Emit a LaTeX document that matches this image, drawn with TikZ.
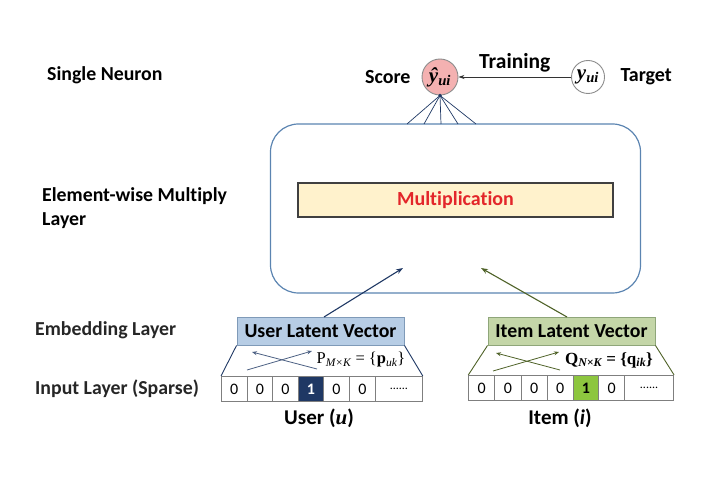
\documentclass[tikz,border=0pt]{standalone}
\usepackage{fontspec}
\setmainfont{Carlito}[Ligatures=NoCommon]
\newfontfamily\tms{Liberation Serif}
\usetikzlibrary{arrows.meta,calc}
\definecolor{navy}{HTML}{1F3864}
\definecolor{dgreen}{HTML}{4F6228}
\definecolor{boxblue}{HTML}{5B84B1}
\definecolor{ublue}{HTML}{B7CDE5}
\definecolor{ublueb}{HTML}{7F9AB8}
\definecolor{igreen}{HTML}{C4D6A8}
\definecolor{igreenb}{HTML}{8FA67A}
\definecolor{hgreen}{HTML}{8DC63F}
\definecolor{myellow}{HTML}{FFF2CC}
\definecolor{mred}{HTML}{E3262A}
\definecolor{spink}{HTML}{F4B1B1}
\definecolor{cellg}{HTML}{7F7F7F}
\newcommand\celldots{\fontsize{12}{12}\selectfont......}
\tikzset{
  lbl/.style={anchor=west, font=\bfseries\fontsize{19.8}{24}\selectfont, text=black, inner sep=0pt},
  cellbox/.style={draw=cellg, line width=0.8pt, minimum height=25pt, inner sep=0pt, font=\fontsize{16}{16}\selectfont},
  latent/.style={minimum width=167pt, minimum height=28pt, inner sep=0pt, line width=0.9pt, font=\bfseries\fontsize{19.8}{19.8}\selectfont},
  neuron/.style={circle, minimum size=36pt, inner sep=0pt, line width=0.9pt},
  xarrow/.style={line width=0.8pt, -{Stealth[length=5pt,width=4pt]}},
}
\begin{document}
\begin{tikzpicture}[x=1pt,y=-1pt]
\useasboundingbox (0,0) rectangle (720,478);
% left labels
\node[lbl] (sn) at (47,75) {Single Neuron};
\node[lbl, align=left] (ew) at (42,208) {Element-wise Multiply\\Layer};
\node[lbl, text=black!85] (emb) at (35,330) {Embedding Layer};
\node[lbl, text=black!85] (inp) at (35,389) {Input Layer (Sparse)};
% big box
\node[draw=boxblue, rounded corners=28pt, minimum width=370pt, minimum height=169pt, line width=1.2pt] (big) at (455.5,208.5) {};
\node[draw=black!75, fill=myellow, minimum width=315pt, minimum height=34pt, line width=1.1pt, font=\bfseries\fontsize{20}{20}\selectfont, text=mred] (mult) at (455.5,200) {Multiplication};
% neurons
\node[neuron, draw=black!45, fill=spink] (score) at (440,77) {\tms\bfseries\itshape\fontsize{21}{21}\selectfont ŷ\textsubscript{ui}};
\node[neuron, draw=black!45, fill=white, minimum size=33pt] (tgt) at (588,77) {\tms\bfseries\itshape\fontsize{21}{21}\selectfont y\textsubscript{ui}};
\node[anchor=east, font=\bfseries\fontsize{20}{20}\selectfont] (scl) at (414,77) {Score};
\node[anchor=west, font=\bfseries\fontsize{20}{20}\selectfont] (tgl) at (617,77) {Target};
\draw[line width=0.9pt, black!80, -{Stealth[length=6pt,width=4pt]}] (tgt.west) -- node[above=1pt, font=\bfseries\fontsize{21.5}{21.5}\selectfont, text=black] (trn) {Training} (score.east);
% fan lines
\foreach \x [count=\k] in {407,424,441,458,476} {
  \coordinate (f\k) at (\x,124);
  \draw[navy, line width=0.7pt] (score.south) -- (f\k);
}
\fill[navy] (score.south) circle (1.8pt);
% latent boxes
\node[latent, draw=ublueb, fill=ublue] (ulv) at (320.5,331) {User Latent Vector};
\node[latent, draw=igreenb, fill=igreen] (ilv) at (571.5,331) {Item Latent Vector};
% arrows into big box
\coordinate (ua) at (403,268);
\coordinate (ia) at (481,268);
\coordinate (us) at (324,317);
\coordinate (is) at (567,317);
\draw[navy, line width=1.1pt, -{Stealth[length=7pt,width=5pt]}] (us) -- (ua);
\draw[dgreen, line width=1.1pt, -{Stealth[length=7pt,width=5pt]}] (is) -- (ia);
% user row
\foreach \x/\w/\t [count=\k] in {221/25.7/0,246.7/25.7/0,272.3/25.4/0,297.7/25.6/1,323.3/25.7/0,349/26/0,375/47/\celldots} {
  \ifnum\k=4
    \node[cellbox, anchor=north west, minimum width=\w pt, fill=navy, text=white, font=\bfseries\fontsize{16}{16}\selectfont] (u\k) at (\x,376) {\t};
  \else
    \node[cellbox, anchor=north west, minimum width=\w pt] (u\k) at (\x,376) {\t};
  \fi
}
% item row
\foreach \x/\w/\t [count=\k] in {468.3/26/0,494.3/26.4/0,520.7/26/0,546.7/26/0,572.7/25.6/1,598.3/25.7/0,624/49.3/\celldots} {
  \ifnum\k=5
    \node[cellbox, anchor=north west, minimum width=\w pt, fill=hgreen, font=\bfseries\fontsize{16}{16}\selectfont] (i\k) at (\x,375) {\t};
  \else
    \node[cellbox, anchor=north west, minimum width=\w pt] (i\k) at (\x,375) {\t};
  \fi
}
% trapezoid sides
\draw[navy, line width=0.9pt] (ulv.south west) -- (u1.north west);
\draw[navy, line width=0.9pt] (ulv.south east) -- (u7.north east);
\draw[dgreen, line width=0.9pt] (ilv.south west) -- (i1.north west);
\draw[dgreen, line width=0.9pt] (ilv.south east) -- (i7.north east);
% crossed arrows
\coordinate (ua1) at (247,370); \coordinate (ua2) at (312,351);
\coordinate (ub1) at (317,369); \coordinate (ub2) at (252,352);
\draw[xarrow, navy!80] (ua1) -- (ua2);
\draw[xarrow, navy!80] (ub1) -- (ub2);
\coordinate (ia1) at (493,371); \coordinate (ia2) at (559,352);
\coordinate (ib1) at (560,370); \coordinate (ib2) at (496,353);
\draw[xarrow, dgreen] (ia1) -- (ia2);
\draw[xarrow, dgreen] (ib1) -- (ib2);
% matrix labels
\node[font=\tms\fontsize{16.5}{16.5}\selectfont, inner sep=0pt] (pl) at (361,360) {P\textsubscript{\itshape M×K} = \{\textbf{p}\textsubscript{\itshape uk}\}};
\node[font=\tms\bfseries\fontsize{17}{17}\selectfont, inner sep=0pt] (ql) at (609,360) {Q\textsubscript{\itshape N×K} = \{q\textsubscript{\itshape ik}\}};
% bottom labels
\node[font=\bfseries\fontsize{21}{21}\selectfont] (ul) at (319,418) {User ({\tms\itshape u})};
\node[font=\bfseries\fontsize{21}{21}\selectfont] (il) at (560,418) {Item ({\itshape i})};
\end{tikzpicture}
\end{document}
